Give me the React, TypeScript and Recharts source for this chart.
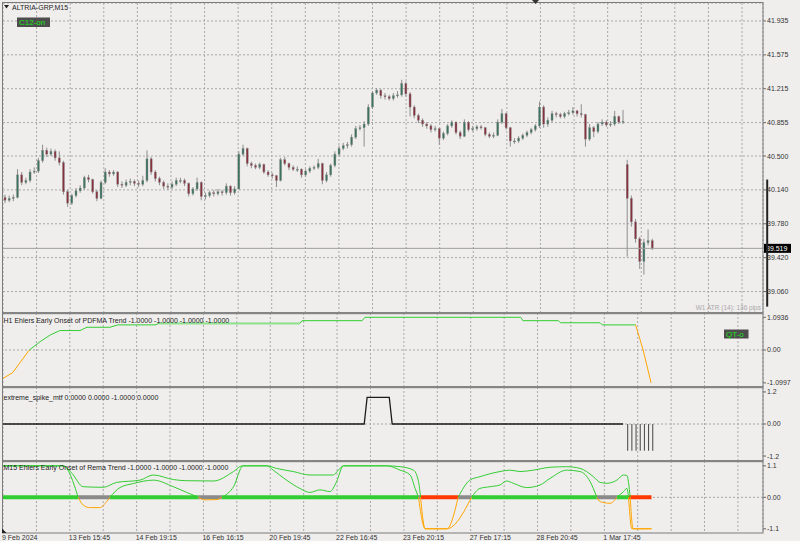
import React from 'react';
import { ComposedChart, Bar, Line, XAxis, YAxis, CartesianGrid, ReferenceLine } from 'recharts';

// ---------- layout / axis constants ----------
const SLOTS = 182;
const GRID_TICKS = [0, 8, 16, 24, 32, 40, 48, 56, 64, 72, 80, 88, 96, 104, 112, 120, 128, 136, 144, 152, 160, 168, 176];
const TIME_TICK_SLOTS = [0, 16, 32, 48, 64, 80, 96, 112, 128, 144];
const TIME_TICK_LABELS = ['9 Feb 2024', '13 Feb 15:45', '14 Feb 19:15', '16 Feb 16:15', '20 Feb 19:45', '22 Feb 16:45', '23 Feb 20:15', '27 Feb 17:15', '28 Feb 20:45', '1 Mar 17:45'];
const PRICE_TICKS = [41.935, 41.575, 41.215, 40.855, 40.5, 40.14, 39.78, 39.42, 39.06];
const LAST_PRICE = 39.519;
const RANGE_MARK = [40.25, 38.9];

// ---------- price data (M15 candles) ----------
const OPEN = [
  40.06, 40.03, 40.05, 40.06, 40.30, 40.22, 40.24, 40.33, 40.34, 40.45,
  40.56, 40.52, 40.55, 40.48, 40.43, 40.12, 40.00, 40.08, 40.13, 40.16,
  40.27, 40.25, 40.12, 40.05, 40.22, 40.33, 40.31, 40.33, 40.20, 40.19,
  40.22, 40.23, 40.21, 40.20, 40.24, 40.47, 40.33, 40.26, 40.22, 40.18,
  40.17, 40.20, 40.24, 40.24, 40.21, 40.10, 40.15, 40.22, 40.07, 40.08,
  40.11, 40.10, 40.12, 40.11, 40.18, 40.11, 40.15, 40.52, 40.58, 40.42,
  40.40, 40.38, 40.41, 40.33, 40.30, 40.29, 40.24, 40.46, 40.42, 40.38,
  40.36, 40.36, 40.30, 40.34, 40.37, 40.38, 40.42, 40.24, 40.30, 40.40,
  40.52, 40.58, 40.61, 40.62, 40.70, 40.79, 40.80, 40.84, 41.02, 41.17,
  41.20, 41.14, 41.13, 41.11, 41.14, 41.15, 41.27, 41.16, 41.02, 40.93,
  40.88, 40.84, 40.82, 40.78, 40.79, 40.69, 40.74, 40.82, 40.86, 40.75,
  40.71, 40.86, 40.78, 40.79, 40.81, 40.80, 40.73, 40.71, 40.72, 40.86,
  40.95, 40.80, 40.66, 40.66, 40.69, 40.72, 40.75, 40.78, 40.82, 41.02,
  40.84, 40.88, 40.95, 40.94, 40.92, 40.95, 40.96, 40.98, 40.95, 40.94,
  40.68, 40.80, 40.76, 40.84, 40.86, 40.83, 40.84, 40.92, 40.86, 40.41,
  40.05, 39.80, 39.62, 39.38, 39.58, 39.60,
];
const HIGH = [
  40.09, 40.08, 40.09, 40.36, 40.33, 40.27, 40.36, 40.38, 40.48, 40.62,
  40.59, 40.58, 40.57, 40.55, 40.45, 40.14, 40.10, 40.16, 40.19, 40.29,
  40.30, 40.26, 40.14, 40.24, 40.37, 40.35, 40.35, 40.34, 40.23, 40.25,
  40.26, 40.25, 40.24, 40.29, 40.56, 40.49, 40.35, 40.28, 40.24, 40.21,
  40.23, 40.27, 40.27, 40.26, 40.22, 40.17, 40.27, 40.23, 40.11, 40.13,
  40.14, 40.15, 40.14, 40.21, 40.19, 40.18, 40.55, 40.62, 40.59, 40.44,
  40.42, 40.43, 40.42, 40.35, 40.32, 40.30, 40.48, 40.49, 40.43, 40.40,
  40.39, 40.37, 40.36, 40.39, 40.40, 40.47, 40.43, 40.33, 40.42, 40.55,
  40.61, 40.64, 40.65, 40.73, 40.82, 40.83, 40.87, 41.05, 41.19, 41.22,
  41.21, 41.17, 41.15, 41.17, 41.19, 41.31, 41.29, 41.18, 41.04, 40.95,
  40.90, 40.86, 40.84, 40.82, 40.80, 40.76, 40.84, 40.88, 40.87, 40.77,
  40.89, 40.87, 40.82, 40.83, 40.83, 40.81, 40.75, 40.75, 40.89, 41.00,
  40.96, 40.81, 40.69, 40.71, 40.74, 40.77, 40.80, 40.84, 41.08, 41.04,
  40.91, 40.98, 40.97, 40.96, 40.97, 40.99, 41.02, 40.99, 41.05, 40.95,
  40.84, 40.82, 40.86, 40.89, 40.88, 40.87, 40.98, 40.93, 40.99, 40.46,
  40.08, 39.83, 39.64, 39.62, 39.72, 39.62,
];
const LOW = [
  40.00, 40.01, 40.02, 40.05, 40.19, 40.20, 40.22, 40.31, 40.32, 40.43,
  40.49, 40.50, 40.45, 40.40, 40.09, 39.96, 39.98, 40.06, 40.11, 40.14,
  40.22, 40.10, 40.02, 40.04, 40.20, 40.28, 40.29, 40.17, 40.16, 40.17,
  40.19, 40.18, 40.17, 40.18, 40.22, 40.30, 40.23, 40.19, 40.15, 40.14,
  40.15, 40.18, 40.21, 40.18, 40.07, 40.08, 40.13, 40.03, 40.04, 40.06,
  40.07, 40.08, 40.08, 40.09, 40.08, 40.09, 40.14, 40.50, 40.39, 40.37,
  40.36, 40.36, 40.31, 40.28, 40.26, 40.17, 40.23, 40.40, 40.35, 40.34,
  40.33, 40.27, 40.28, 40.32, 40.35, 40.36, 40.20, 40.22, 40.28, 40.38,
  40.50, 40.56, 40.58, 40.60, 40.68, 40.77, 40.60, 40.82, 41.00, 41.15,
  41.11, 41.10, 41.09, 41.09, 41.12, 41.13, 41.13, 40.92, 40.90, 40.85,
  40.81, 40.79, 40.75, 40.76, 40.62, 40.67, 40.72, 40.80, 40.73, 40.68,
  40.70, 40.76, 40.76, 40.77, 40.78, 40.71, 40.69, 40.69, 40.71, 40.84,
  40.78, 40.60, 40.63, 40.64, 40.67, 40.70, 40.73, 40.76, 40.80, 40.80,
  40.81, 40.86, 40.91, 40.90, 40.90, 40.93, 40.94, 40.92, 40.91, 40.60,
  40.66, 40.70, 40.74, 40.82, 40.81, 40.81, 40.82, 40.84, 40.84, 39.43,
  39.75, 39.58, 39.30, 39.24, 39.55, 39.50,
];
const CLOSE = [
  40.03, 40.05, 40.06, 40.30, 40.22, 40.24, 40.33, 40.34, 40.45, 40.56,
  40.52, 40.55, 40.48, 40.43, 40.12, 40.00, 40.08, 40.13, 40.16, 40.27,
  40.25, 40.12, 40.05, 40.22, 40.33, 40.31, 40.33, 40.20, 40.19, 40.22,
  40.23, 40.21, 40.20, 40.24, 40.47, 40.33, 40.26, 40.22, 40.18, 40.17,
  40.20, 40.24, 40.24, 40.21, 40.10, 40.15, 40.22, 40.07, 40.08, 40.11,
  40.10, 40.12, 40.11, 40.18, 40.11, 40.15, 40.52, 40.58, 40.42, 40.40,
  40.38, 40.41, 40.33, 40.30, 40.29, 40.24, 40.46, 40.42, 40.38, 40.36,
  40.36, 40.30, 40.34, 40.37, 40.38, 40.42, 40.24, 40.30, 40.40, 40.52,
  40.58, 40.61, 40.62, 40.70, 40.79, 40.80, 40.84, 41.02, 41.17, 41.20,
  41.14, 41.13, 41.11, 41.14, 41.15, 41.27, 41.16, 41.02, 40.93, 40.88,
  40.84, 40.82, 40.78, 40.79, 40.69, 40.74, 40.82, 40.86, 40.75, 40.71,
  40.86, 40.78, 40.79, 40.81, 40.80, 40.73, 40.71, 40.72, 40.86, 40.95,
  40.80, 40.66, 40.66, 40.69, 40.72, 40.75, 40.78, 40.82, 41.02, 40.84,
  40.88, 40.95, 40.94, 40.92, 40.95, 40.96, 40.98, 40.95, 40.94, 40.68,
  40.80, 40.76, 40.84, 40.86, 40.83, 40.84, 40.92, 40.86, 40.87, 40.05,
  39.80, 39.62, 39.38, 39.58, 39.60, 39.52,
];

// ---------- H1 Ehlers Early Onset of PDFMA Trend ----------
const PDFMA_UP_X = [6.3, 8.9, 11.3, 13.6, 18.4, 20.1, 25.6, 27.5, 36.4, 37.4, 71.1, 71.6, 86.0, 86.7, 124.0, 124.5, 133.0, 133.5, 143.0, 143.5, 151.5];
const PDFMA_UP_V = [0, 0.28, 0.50, 0.65, 0.65, 0.76, 0.76, 0.84, 0.84, 0.89, 0.89, 0.98, 0.98, 1.0936, 1.0936, 0.98, 0.98, 0.91, 0.91, 0.84, 0.84];
const PDFMA_DN_X = [0, 2.3, 6.3, 80, 151.5, 153.3, 155.2];
const PDFMA_DN_V: (number | null)[] = [-0.95, -0.76, 0, null, 0.84, 0, -1.0997];
const PDFMA_HI_X = [37.4, 71.1];
const PDFMA_HI_V = [0.89, 0.89];
const PDFMA_TICKS = [1.0936, 0, -1.0997];

// ---------- extreme_spike_mtf ----------
const SPIKE_X = [0, 86.5, 87.2, 92.5, 93.2, 148.5];
const SPIKE_V = [0, 0, 1, 1, 0, 0];
const SPIKE_HIST_START = 149;
const SPIKE_HIST_V = [-1, -1, -1, -1, -1, -1, -1];
const SPIKE_TICKS = [1.2, 0, -1.2];

// ---------- M15 Ehlers Early Onset of Rema Trend ----------
const REMA_A_X = [0, 14.4, 16.5, 19.2, 24.0, 27.2, 32.8, 36.0, 40.8, 44.0, 50.4, 55.2, 57.3, 63.2, 65.5, 69.5, 73.5, 79.1, 80.3, 81.5, 91.9, 95.1, 98.3, 99.5, 100.0, 101.1, 106.3, 109.0, 111.8, 114.2, 119.0, 121.4, 123.8, 127.0, 131.0, 135.0, 138.2, 141.4, 143.0, 144.6, 147.0, 148.6, 149.4, 150.2, 150.9, 155.3];
const REMA_A_V = [1.1, 1.1, 0.84, 0.37, 0.35, 0.52, 0.60, 0.78, 0.62, 0.58, 0.57, 0.90, 1.1, 1.1, 1.01, 0.90, 0.78, 0.78, 0.95, 1.1, 1.1, 1.07, 0.95, 0.55, 0, -1.1, -1.1, 0, 0.60, 0.72, 0.90, 0.95, 0.90, 0.95, 1.05, 1.07, 1.01, 0.72, 0.52, 0.49, 0.60, 0.78, 0.76, 0, -1.1, -1.1];
const REMA_B_X = [0, 14.4, 18.0, 19.2, 20.8, 23.2, 24.8, 25.6, 28.0, 31.2, 36.0, 40.8, 44.0, 46.8, 48.4, 51.2, 52.4, 55.2, 57.5, 63.2, 64.7, 67.9, 71.1, 73.5, 75.9, 78.3, 79.9, 81.5, 91.9, 95.1, 97.5, 98.7, 99.5, 101.1, 106.3, 112.2, 114.2, 116.6, 119.0, 120.6, 122.2, 125.4, 128.6, 131.0, 135.0, 138.2, 140.6, 142.2, 143.0, 145.4, 147.0, 148.6, 149.4, 149.8, 150.6, 155.3];
const REMA_B_V = [1.1, 1.1, 0, -0.27, -0.36, -0.36, -0.15, 0, 0.34, 0.48, 0.60, 0.37, 0.17, 0, -0.09, -0.08, 0, 0.37, 1.1, 1.1, 0.95, 0.60, 0.31, 0.17, 0.26, 0.20, 0.55, 1.1, 1.1, 0.95, 0.78, 0.31, 0, -1.1, -1.1, 0, 0.31, 0.37, 0.43, 0.57, 0.49, 0.34, 0.43, 0.66, 0.95, 0.90, 0.55, 0, -0.15, -0.21, 0, 0.20, 0.31, 0, -1.1, -1.1];
const STATE_GREEN = [[0, 18], [25.6, 46.8], [52.4, 99.5], [112.2, 142.2], [147, 149.8]];
const STATE_GRAY = [[18, 25.6], [46.8, 52.4], [99.5, 100], [109, 112.2], [142.2, 147]];
const STATE_RED = [[100, 109], [149.8, 155.3]];
const REMA_TICKS = [1.1, 0, -1.1];

// ---------- styles ----------
const FONT = '"Liberation Sans", Arial, sans-serif';
const BG = '#f0eeed';
const GRID = '#a8a8a8';
const BULL = '#3b7260';
const BEAR = '#86323e';
const WICK = '#8e8e8e';
const GREEN = '#32cd32';
const ORANGE = '#ffa500';

// ---------- helpers ----------
const candleData = Array.from({ length: SLOTS }, (_, i) =>
  i < CLOSE.length
    ? { slot: i, range: [LOW[i], HIGH[i]], o: OPEN[i], c: CLOSE[i], hi: HIGH[i], lo: LOW[i] }
    : { slot: i, range: null }
);

const spikeHistData = Array.from({ length: SLOTS }, (_, i) => {
  const k = i - SPIKE_HIST_START;
  return { slot: i, h: k >= 0 && k < SPIKE_HIST_V.length ? SPIKE_HIST_V[k] : null };
});

const pts = (xs: number[], vs: (number | null)[]) => xs.map((x, i) => ({ x, v: vs[i] }));
const positive = (xs: number[], vs: number[]) => xs.map((x, i) => ({ x, v: vs[i] >= 0 ? vs[i] : null }));
const negative = (xs: number[], vs: number[]) => xs.map((x, i) => ({ x, v: vs[i] <= 0 ? vs[i] : null }));
const segs = (list: number[][]) => {
  const out: { x: number; v: number | null }[] = [];
  list.forEach(([a, b], k) => {
    out.push({ x: a, v: 0 }, { x: b, v: 0 });
    if (k < list.length - 1) out.push({ x: (b + list[k + 1][0]) / 2, v: null });
  });
  return out;
};

const Candle = (props: any) => {
  const { x, y, width, height, payload } = props;
  if (!payload || payload.range == null || !isFinite(y) || !isFinite(height)) return <g />;
  const top = Math.min(y, y + height);
  const h = Math.abs(height);
  const { o, c, hi, lo } = payload;
  const toY = (v: number) => (hi === lo ? top : top + (h * (hi - v)) / (hi - lo));
  const cx = x + width / 2;
  const yo = toY(o);
  const yc = toY(c);
  const bt = Math.min(yo, yc);
  const bh = Math.max(1, Math.abs(yo - yc));
  return (
    <g>
      <line x1={cx} x2={cx} y1={top} y2={top + h} stroke={WICK} strokeWidth={1} />
      <rect x={x} y={bt} width={width} height={bh} fill={c >= o ? BULL : BEAR} stroke={WICK} strokeWidth={0.4} />
    </g>
  );
};

const PriceTag = (props: any) => {
  const vb = props.viewBox;
  if (!vb) return null;
  const x = vb.x + vb.width;
  const y = vb.y;
  return (
    <g>
      <rect x={x + 1} y={y - 4.5} width={27} height={9} fill="#000" />
      <text x={x + 3} y={y + 2.6} fill="#fff" fontSize={7} fontFamily={FONT}>
        {LAST_PRICE.toFixed(3)}
      </text>
    </g>
  );
};

const TimeTick = (props: any) => {
  const { x, y, payload } = props;
  const k = TIME_TICK_SLOTS.indexOf(payload.value);
  if (k < 0) return <g />;
  return (
    <text x={x - 1} y={y} dy="0.71em" fontSize={7} fill="#333" fontFamily={FONT}>
      {TIME_TICK_LABELS[k]}
    </text>
  );
};

const yTick = { fontSize: 7, fill: '#333', fontFamily: FONT };
const fmt4 = (v: number) => (v === 0 ? '0.00' : v.toFixed(4));
const fmt1 = (v: number) => (v === 0 ? '0.00' : v.toFixed(1));

const MARGIN = { top: 0, right: 0, bottom: 0, left: 3 };

export default function App() {
  return (
    <div style={{ position: 'absolute', left: 0, top: 0, width: 800, height: 541, background: BG, overflow: 'hidden' }}>
      {/* main price pane */}
      <div style={{ position: 'absolute', left: 0, top: 0 }}>
        <ComposedChart width={800} height={314} data={candleData} margin={{ top: 3, right: 0, bottom: 1, left: 3 }}>
          <XAxis xAxisId="c" dataKey="slot" type="category" hide />
          <XAxis xAxisId="g" type="number" domain={[0, SLOTS]} ticks={GRID_TICKS} allowDataOverflow hide />
          <YAxis yAxisId="p" orientation="right" width={37} domain={[38.832, 42.126]} allowDataOverflow ticks={PRICE_TICKS} interval={0}
            tickFormatter={(v: number) => v.toFixed(3)} tick={yTick} tickSize={3} tickMargin={1} axisLine={false} tickLine={{ stroke: '#666' }} />
          <CartesianGrid xAxisId="g" yAxisId="p" stroke={GRID} strokeDasharray="2 2" />
          <Bar xAxisId="c" yAxisId="p" dataKey="range" barSize={2} shape={Candle} isAnimationActive={false} />
          <ReferenceLine xAxisId="g" yAxisId="p" y={LAST_PRICE} stroke="#a19d9d" strokeWidth={1} label={<PriceTag />} />
          <ReferenceLine xAxisId="g" yAxisId="p" segment={[{ x: SLOTS, y: RANGE_MARK[0] }, { x: SLOTS, y: RANGE_MARK[1] }]} stroke="#222" strokeWidth={2} ifOverflow="visible" />
        </ComposedChart>
      </div>

      {/* pane 1: H1 PDFMA */}
      <div style={{ position: 'absolute', left: 0, top: 313 }}>
        <ComposedChart width={800} height={74} margin={MARGIN}>
          <XAxis xAxisId="n" type="number" dataKey="x" domain={[0, SLOTS]} ticks={GRID_TICKS} allowDataOverflow hide />
          <YAxis yAxisId="v" orientation="right" width={37} domain={[-1.237, 1.237]} allowDataOverflow ticks={PDFMA_TICKS} interval={0}
            tickFormatter={fmt4} tick={yTick} tickSize={3} tickMargin={1} axisLine={false} tickLine={{ stroke: '#666' }} />
          <CartesianGrid xAxisId="n" yAxisId="v" stroke={GRID} strokeDasharray="2 2" horizontal={false} />
          <ReferenceLine xAxisId="n" yAxisId="v" y={0} stroke={GRID} strokeDasharray="2 2" />
          <Line xAxisId="n" yAxisId="v" data={pts(PDFMA_UP_X, PDFMA_UP_V)} dataKey="v" type="linear" stroke={GREEN} strokeWidth={1} dot={false} isAnimationActive={false} />
          <Line xAxisId="n" yAxisId="v" data={pts(PDFMA_HI_X, PDFMA_HI_V)} dataKey="v" type="linear" stroke="#8fe08f" strokeWidth={2} dot={false} isAnimationActive={false} />
          <Line xAxisId="n" yAxisId="v" data={pts(PDFMA_DN_X, PDFMA_DN_V)} dataKey="v" type="linear" stroke={ORANGE} strokeWidth={1} dot={false} isAnimationActive={false} />
        </ComposedChart>
      </div>

      {/* pane 2: extreme spike */}
      <div style={{ position: 'absolute', left: 0, top: 387 }}>
        <ComposedChart width={800} height={74} data={spikeHistData} margin={MARGIN}>
          <XAxis xAxisId="c" dataKey="slot" type="category" hide />
          <XAxis xAxisId="n" type="number" dataKey="x" domain={[0, SLOTS]} ticks={GRID_TICKS} allowDataOverflow hide />
          <YAxis yAxisId="v" orientation="right" width={37} domain={[-1.386, 1.386]} allowDataOverflow ticks={SPIKE_TICKS} interval={0}
            tickFormatter={fmt1} tick={yTick} tickSize={3} tickMargin={1} axisLine={false} tickLine={{ stroke: '#666' }} />
          <CartesianGrid xAxisId="n" yAxisId="v" stroke={GRID} strokeDasharray="2 2" horizontal={false} />
          <ReferenceLine xAxisId="n" yAxisId="v" y={0} stroke={GRID} strokeDasharray="2 2" />
          <Bar xAxisId="c" yAxisId="v" dataKey="h" barSize={1} fill="#444" isAnimationActive={false} />
          <Line xAxisId="n" yAxisId="v" data={pts(SPIKE_X, SPIKE_V)} dataKey="v" type="linear" stroke="#1a1a1a" strokeWidth={1.3} dot={false} isAnimationActive={false} />
        </ComposedChart>
      </div>

      {/* pane 3: M15 Rema */}
      <div style={{ position: 'absolute', left: 0, top: 461 }}>
        <ComposedChart width={800} height={80} margin={MARGIN}>
          <XAxis xAxisId="n" type="number" dataKey="x" domain={[0, SLOTS]} ticks={GRID_TICKS} interval={0} allowDataOverflow
            height={8} axisLine={false} tickLine={false} tickSize={2} tickMargin={0} tick={TimeTick} />
          <YAxis yAxisId="v" orientation="right" width={37} domain={[-1.248, 1.269]} allowDataOverflow ticks={REMA_TICKS} interval={0}
            tickFormatter={fmt1} tick={yTick} tickSize={3} tickMargin={1} axisLine={false} tickLine={{ stroke: '#666' }} />
          <CartesianGrid xAxisId="n" yAxisId="v" stroke={GRID} strokeDasharray="2 2" horizontal={false} />
          <ReferenceLine xAxisId="n" yAxisId="v" y={0} stroke={GRID} strokeDasharray="2 2" />
          <Line xAxisId="n" yAxisId="v" data={segs(STATE_GREEN)} dataKey="v" type="linear" stroke={GREEN} strokeWidth={4} dot={false} isAnimationActive={false} />
          <Line xAxisId="n" yAxisId="v" data={segs(STATE_GRAY)} dataKey="v" type="linear" stroke="#8a8a8a" strokeWidth={4} dot={false} isAnimationActive={false} />
          <Line xAxisId="n" yAxisId="v" data={segs(STATE_RED)} dataKey="v" type="linear" stroke="#ff3a00" strokeWidth={4} dot={false} isAnimationActive={false} />
          <Line xAxisId="n" yAxisId="v" data={positive(REMA_A_X, REMA_A_V)} dataKey="v" type="monotone" stroke={GREEN} strokeWidth={1} dot={false} isAnimationActive={false} />
          <Line xAxisId="n" yAxisId="v" data={negative(REMA_A_X, REMA_A_V)} dataKey="v" type="monotone" stroke={ORANGE} strokeWidth={1} dot={false} isAnimationActive={false} />
          <Line xAxisId="n" yAxisId="v" data={positive(REMA_B_X, REMA_B_V)} dataKey="v" type="monotone" stroke={GREEN} strokeWidth={1} dot={false} isAnimationActive={false} />
          <Line xAxisId="n" yAxisId="v" data={negative(REMA_B_X, REMA_B_V)} dataKey="v" type="monotone" stroke={ORANGE} strokeWidth={1} dot={false} isAnimationActive={false} />
        </ComposedChart>
      </div>

      {/* frame, separators and captions */}
      <svg width={800} height={541} style={{ position: 'absolute', left: 0, top: 0, pointerEvents: 'none' }}>
        <rect x={2.5} y={2.5} width={760.5} height={530.5} fill="none" stroke="#7a7a7a" strokeWidth={1} />
        <rect x={3} y={312} width={760} height={2.2} fill="#858585" />
        <rect x={3} y={386} width={760} height={2.2} fill="#858585" />
        <rect x={3} y={460} width={760} height={2.2} fill="#858585" />
        <polygon points="532,0 539,0 535.5,4" fill="#333" />
        <polygon points="4,5 9,5 6.5,8.5" fill="#222" />
        <text x={12} y={9.5} fontSize={7} fill="#222" fontFamily={FONT}>ALTRIA-GRP,M15</text>
        <rect x={17} y={17.5} width={33} height={9.5} fill="#4d4d4d" />
        <text x={19} y={25} fontSize={8} fill="#19e619" fontFamily={FONT}>C12-on</text>
        <text x={761} y={309.5} fontSize={6.5} fill="#a8a8a8" fontFamily={FONT} textAnchor="end">W1 ATR (14): 136 pips</text>
        <text x={3.5} y={322.5} fontSize={7} fill="#222" fontFamily={FONT}>H1 Ehlers Early Onset of PDFMA Trend -1.0000 -1.0000 -1.0000 -1.0000</text>
        <rect x={724} y={329.5} width={24.5} height={9} fill="#4d4d4d" />
        <text x={726} y={336.8} fontSize={8} fill="#19e619" fontFamily={FONT}>QT-o</text>
        <text x={3.5} y={399.5} fontSize={7} fill="#222" fontFamily={FONT}>extreme_spike_mtf 0.0000 0.0000 -1.0000 0.0000</text>
        <text x={3.5} y={470} fontSize={7} fill="#222" fontFamily={FONT}>M15 Ehlers Early Onset of Rema Trend -1.0000 -1.0000 -1.0000 -1.0000</text>
        <polygon points="2,528.5 2,533 6.5,533" fill="#222" />
      </svg>
    </div>
  );
}
